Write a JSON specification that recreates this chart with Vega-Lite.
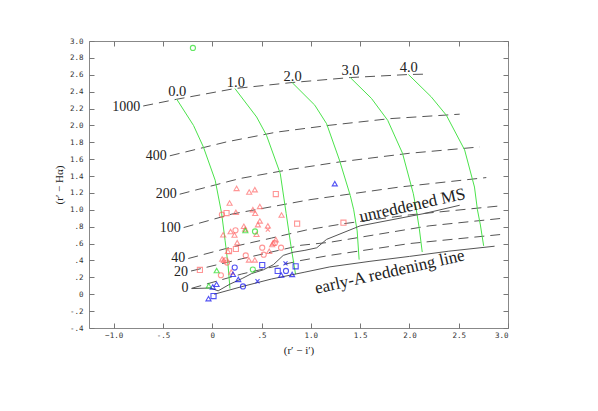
{
  "$schema": "https://vega.github.io/schema/vega-lite/v6.json",
  "width": 419,
  "height": 287,
  "autosize": "none",
  "padding": {"left": 89, "top": 41, "right": 90, "bottom": 83},
  "background": "white",
  "config": {
    "view": {"stroke": "#888", "strokeWidth": 1},
    "font": "Liberation Serif",
    "axis": {
      "grid": false, "domain": false, "ticks": true, "tickSize": -5, "tickColor": "#777",
      "labelFont": "DejaVu Sans Mono", "labelFontSize": 7.5, "labelColor": "#333",
      "titleFont": "Liberation Serif", "titleFontWeight": "normal", "titleFontSize": 11, "titleColor": "#222"
    }
  },
  "datasets": {
    "ew": [
      {"g": "1000", "x": -0.70, "y": 2.23}, {"g": "1000", "x": -0.36, "y": 2.31}, {"g": "1000", "x": 0.23, "y": 2.437}, {"g": "1000", "x": 0.81, "y": 2.508}, {"g": "1000", "x": 1.40, "y": 2.567}, {"g": "1000", "x": 1.99, "y": 2.603}, {"g": "1000", "x": 2.155, "y": 2.607},
      {"g": "400", "x": -0.43, "y": 1.64}, {"g": "400", "x": 0.146, "y": 1.805}, {"g": "400", "x": 0.65, "y": 1.92}, {"g": "400", "x": 1.193, "y": 2.002}, {"g": "400", "x": 1.8, "y": 2.08}, {"g": "400", "x": 2.51, "y": 2.133},
      {"g": "200", "x": -0.33, "y": 1.185}, {"g": "200", "x": 0.281, "y": 1.371}, {"g": "200", "x": 0.8, "y": 1.48}, {"g": "200", "x": 1.294, "y": 1.568}, {"g": "200", "x": 2.0, "y": 1.67}, {"g": "200", "x": 2.713, "y": 1.745},
      {"g": "100", "x": -0.29, "y": 0.79}, {"g": "100", "x": 0.2, "y": 0.95}, {"g": "100", "x": 0.99, "y": 1.12}, {"g": "100", "x": 1.9, "y": 1.27}, {"g": "100", "x": 2.78, "y": 1.382},
      {"g": "40", "x": -0.243, "y": 0.423}, {"g": "40", "x": 0.2, "y": 0.56}, {"g": "40", "x": 0.6, "y": 0.665}, {"g": "40", "x": 0.95, "y": 0.76}, {"g": "40", "x": 1.33, "y": 0.835}, {"g": "40", "x": 2.0, "y": 0.94}, {"g": "40", "x": 2.95, "y": 1.05},
      {"g": "20", "x": -0.215, "y": 0.275}, {"g": "20", "x": 0.3, "y": 0.42}, {"g": "20", "x": 0.9, "y": 0.58}, {"g": "20", "x": 1.19, "y": 0.615}, {"g": "20", "x": 2.2, "y": 0.81}, {"g": "20", "x": 2.92, "y": 0.897},
      {"g": "0", "x": -0.21, "y": 0.07}, {"g": "0", "x": 0.3, "y": 0.24}, {"g": "0", "x": 0.9, "y": 0.40}, {"g": "0", "x": 1.19, "y": 0.46}, {"g": "0", "x": 2.0, "y": 0.60}, {"g": "0", "x": 2.92, "y": 0.707}
    ],
    "red": [
      {"g": "0.0", "x": -0.36, "y": 2.31}, {"g": "0.0", "x": -0.19, "y": 2.0}, {"g": "0.0", "x": -0.09, "y": 1.745}, {"g": "0.0", "x": 0.03, "y": 1.35}, {"g": "0.0", "x": 0.095, "y": 0.96}, {"g": "0.0", "x": 0.13, "y": 0.64}, {"g": "0.0", "x": 0.16, "y": 0.35}, {"g": "0.0", "x": 0.18, "y": 0.067},
      {"g": "1.0", "x": 0.23, "y": 2.437}, {"g": "1.0", "x": 0.45, "y": 2.10}, {"g": "1.0", "x": 0.55, "y": 1.884}, {"g": "1.0", "x": 0.69, "y": 1.43}, {"g": "1.0", "x": 0.75, "y": 0.955}, {"g": "1.0", "x": 0.80, "y": 0.56}, {"g": "1.0", "x": 0.845, "y": 0.237},
      {"g": "2.0", "x": 0.81, "y": 2.508}, {"g": "2.0", "x": 1.04, "y": 2.24}, {"g": "2.0", "x": 1.16, "y": 2.02}, {"g": "2.0", "x": 1.29, "y": 1.59}, {"g": "2.0", "x": 1.40, "y": 1.17}, {"g": "2.0", "x": 1.435, "y": 1.0}, {"g": "2.0", "x": 1.47, "y": 0.75}, {"g": "2.0", "x": 1.49, "y": 0.41},
      {"g": "3.0", "x": 1.40, "y": 2.567}, {"g": "3.0", "x": 1.615, "y": 2.32}, {"g": "3.0", "x": 1.78, "y": 2.06}, {"g": "3.0", "x": 1.93, "y": 1.67}, {"g": "3.0", "x": 2.04, "y": 1.19}, {"g": "3.0", "x": 2.07, "y": 1.0}, {"g": "3.0", "x": 2.10, "y": 0.78}, {"g": "3.0", "x": 2.13, "y": 0.50},
      {"g": "4.0", "x": 1.99, "y": 2.603}, {"g": "4.0", "x": 2.22, "y": 2.34}, {"g": "4.0", "x": 2.375, "y": 2.12}, {"g": "4.0", "x": 2.56, "y": 1.71}, {"g": "4.0", "x": 2.66, "y": 1.27}, {"g": "4.0", "x": 2.69, "y": 1.0}, {"g": "4.0", "x": 2.72, "y": 0.82}, {"g": "4.0", "x": 2.753, "y": 0.573}
    ],
    "solid": [
      {"g": "MS", "x": -0.209, "y": 0.067}, {"g": "MS", "x": -0.02, "y": 0.074}, {"g": "MS", "x": 0.06, "y": 0.04}, {"g": "MS", "x": 0.18, "y": 0.12}, {"g": "MS", "x": 0.31, "y": 0.19}, {"g": "MS", "x": 0.40, "y": 0.245}, {"g": "MS", "x": 0.52, "y": 0.29}, {"g": "MS", "x": 0.62, "y": 0.35}, {"g": "MS", "x": 0.72, "y": 0.46}, {"g": "MS", "x": 0.82, "y": 0.497}, {"g": "MS", "x": 0.94, "y": 0.52}, {"g": "MS", "x": 1.06, "y": 0.55}, {"g": "MS", "x": 1.16, "y": 0.65}, {"g": "MS", "x": 1.50, "y": 0.81}, {"g": "MS", "x": 2.15, "y": 0.956}, {"g": "MS", "x": 2.51, "y": 1.054},
      {"g": "A", "x": 0.02, "y": 0.0}, {"g": "A", "x": 0.3, "y": 0.09}, {"g": "A", "x": 0.6, "y": 0.18}, {"g": "A", "x": 0.94, "y": 0.262}, {"g": "A", "x": 1.193, "y": 0.324}, {"g": "A", "x": 1.6, "y": 0.39}, {"g": "A", "x": 2.0, "y": 0.448}, {"g": "A", "x": 2.4, "y": 0.51}, {"g": "A", "x": 2.864, "y": 0.569}
    ],
    "pts": [
      {"x": 0.247, "y": 1.254, "c": "r", "s": "tri"}, {"x": 0.375, "y": 1.211, "c": "r", "s": "tri"}, {"x": 0.432, "y": 1.239, "c": "r", "s": "tri"}, {"x": 0.176, "y": 1.081, "c": "r", "s": "tri"},
      {"x": 0.240, "y": 0.970, "c": "r", "s": "tri"}, {"x": 0.412, "y": 1.002, "c": "r", "s": "tri"}, {"x": 0.483, "y": 1.040, "c": "r", "s": "tri"}, {"x": 0.436, "y": 0.959, "c": "r", "s": "tri"},
      {"x": 0.703, "y": 0.939, "c": "r", "s": "tri"}, {"x": 0.483, "y": 0.868, "c": "r", "s": "tri"}, {"x": 0.463, "y": 0.824, "c": "r", "s": "tri"}, {"x": 0.321, "y": 0.805, "c": "r", "s": "tri"},
      {"x": 0.334, "y": 0.773, "c": "r", "s": "tri"}, {"x": 0.186, "y": 0.742, "c": "r", "s": "tri"}, {"x": 0.111, "y": 0.705, "c": "r", "s": "tri"}, {"x": 0.226, "y": 0.702, "c": "r", "s": "tri"},
      {"x": 0.449, "y": 0.710, "c": "r", "s": "tri"}, {"x": 0.253, "y": 0.611, "c": "r", "s": "tri"}, {"x": 0.645, "y": 0.647, "c": "r", "s": "tri"}, {"x": 0.618, "y": 0.607, "c": "r", "s": "tri"},
      {"x": 0.608, "y": 0.588, "c": "r", "s": "tri"}, {"x": 0.578, "y": 0.509, "c": "r", "s": "tri"}, {"x": 0.159, "y": 0.509, "c": "r", "s": "tri"}, {"x": 0.101, "y": 0.418, "c": "r", "s": "tri"},
      {"x": 0.118, "y": 0.402, "c": "r", "s": "tri"}, {"x": 0.372, "y": 0.406, "c": "r", "s": "tri"}, {"x": 0.432, "y": 0.406, "c": "r", "s": "tri"}, {"x": 0.193, "y": 0.264, "c": "r", "s": "tri"},
      {"x": 0.564, "y": 0.810, "c": "r", "s": "tri"}, {"x": 0.564, "y": 0.765, "c": "r", "s": "x"},
      {"x": 0.645, "y": 1.187, "c": "r", "s": "sq"}, {"x": 0.145, "y": 0.962, "c": "r", "s": "sq"}, {"x": 0.861, "y": 0.836, "c": "r", "s": "sq"}, {"x": 1.331, "y": 0.848, "c": "r", "s": "sq"},
      {"x": 0.17, "y": 0.51, "c": "r", "s": "sq"}, {"x": 0.240, "y": 0.536, "c": "r", "s": "sq"}, {"x": -0.125, "y": 0.288, "c": "r", "s": "sq"},
      {"x": 0.098, "y": 0.943, "c": "r", "s": "circ"}, {"x": 0.236, "y": 0.757, "c": "r", "s": "circ"}, {"x": 0.340, "y": 0.460, "c": "r", "s": "circ"}, {"x": 0.507, "y": 0.552, "c": "r", "s": "circ"},
      {"x": 0.522, "y": 0.469, "c": "r", "s": "circ"}, {"x": 0.698, "y": 0.552, "c": "r", "s": "circ"}, {"x": 0.135, "y": 0.402, "c": "r", "s": "circ"}, {"x": 0.150, "y": 0.375, "c": "r", "s": "circ"},
      {"x": 0.088, "y": 0.225, "c": "r", "s": "circ"}, {"x": 0.635, "y": 0.608, "c": "r", "s": "circ"},
      {"x": -0.196, "y": 2.918, "c": "g", "s": "circ"}, {"x": 0.045, "y": 0.280, "c": "g", "s": "tri"}, {"x": -0.035, "y": 0.100, "c": "g", "s": "tri"},
      {"x": 0.434, "y": 0.744, "c": "g", "s": "circ"}, {"x": 0.336, "y": 0.754, "c": "g", "s": "tri"}, {"x": 0.412, "y": 0.292, "c": "g", "s": "circ"},
      {"x": 1.243, "y": 1.310, "c": "b", "s": "tri"}, {"x": -0.038, "y": -0.052, "c": "b", "s": "tri"}, {"x": 0.013, "y": -0.022, "c": "b", "s": "sq"}, {"x": 0.005, "y": 0.087, "c": "b", "s": "tri"},
      {"x": 0.044, "y": 0.118, "c": "b", "s": "tri"}, {"x": 0.228, "y": 0.316, "c": "b", "s": "circ"}, {"x": 0.211, "y": 0.237, "c": "b", "s": "tri"}, {"x": 0.264, "y": 0.176, "c": "b", "s": "tri"},
      {"x": 0.312, "y": 0.093, "c": "b", "s": "circ"}, {"x": 0.459, "y": 0.154, "c": "b", "s": "x"}, {"x": 0.507, "y": 0.345, "c": "b", "s": "sq"}, {"x": 0.664, "y": 0.276, "c": "b", "s": "sq"},
      {"x": 0.748, "y": 0.276, "c": "b", "s": "circ"}, {"x": 0.743, "y": 0.365, "c": "b", "s": "x"}, {"x": 0.700, "y": 0.227, "c": "b", "s": "tri"}, {"x": 0.810, "y": 0.235, "c": "b", "s": "tri"},
      {"x": 0.846, "y": 0.331, "c": "b", "s": "sq"}
    ],
    "ewlab": [
      {"t": "1000", "x": -0.70, "y": 2.22}, {"t": "400", "x": -0.43, "y": 1.635}, {"t": "200", "x": -0.33, "y": 1.185},
      {"t": "100", "x": -0.29, "y": 0.79}, {"t": "40", "x": -0.243, "y": 0.428}, {"t": "20", "x": -0.215, "y": 0.262}, {"t": "0", "x": -0.21, "y": 0.072}
    ],
    "eblab": [
      {"t": "0.0", "x": -0.355, "y": 2.40}, {"t": "1.0", "x": 0.24, "y": 2.50}, {"t": "2.0", "x": 0.815, "y": 2.577},
      {"t": "3.0", "x": 1.402, "y": 2.643}, {"t": "4.0", "x": 1.993, "y": 2.682}
    ],
    "ms": [{"t": "unreddened MS", "x": 2.03, "y": 1.05}],
    "ea": [{"t": "early-A reddening line", "x": 1.80, "y": 0.262}]
  },
  "resolve": {"axis": {"x": "independent", "y": "independent"}},
  "layer": [
    {
      "data": {"name": "ew"},
      "mark": {"type": "line", "color": "#555", "strokeWidth": 1, "strokeDash": [10, 6]},
      "encoding": {
        "x": {"field": "x", "type": "quantitative", "scale": {"domain": [-1.25, 3.0], "nice": false, "zero": false},
          "axis": {"orient": "bottom", "values": [-1, -0.5, 0, 0.5, 1, 1.5, 2, 2.5, 3], "title": "(r′ − i′)", "labelPadding": 8, "titlePadding": 6,
            "labelExpr": "datum.value == 0 ? '0' : (abs(datum.value) < 1 ? (datum.value < 0 ? '-' : '') + substring(format(abs(datum.value), '.1f'), 1) : format(datum.value, '.1f'))"}},
        "y": {"field": "y", "type": "quantitative", "scale": {"domain": [-0.4, 3.0], "nice": false, "zero": false},
          "axis": {"orient": "left", "values": [-0.4, -0.2, 0, 0.2, 0.4, 0.6, 0.8, 1.0, 1.2, 1.4, 1.6, 1.8, 2.0, 2.2, 2.4, 2.6, 2.8, 3.0], "title": "(r′ − Hα)", "labelPadding": 11, "titlePadding": 5,
            "labelExpr": "datum.value == 0 ? '0' : (abs(datum.value) < 1 ? (datum.value < 0 ? '-' : '') + substring(format(abs(datum.value), '.1f'), 1) : format(datum.value, '.1f'))"}},
        "detail": {"field": "g"}
      }
    },
    {
      "data": {"name": "red"},
      "mark": {"type": "line", "color": "#4be34b", "strokeWidth": 1},
      "encoding": {
        "x": {"field": "x", "type": "quantitative", "axis": {"orient": "top", "values": [-1, -0.5, 0, 0.5, 1, 1.5, 2, 2.5, 3], "labels": false, "title": null}},
        "y": {"field": "y", "type": "quantitative", "axis": {"orient": "right", "values": [-0.4, -0.2, 0, 0.2, 0.4, 0.6, 0.8, 1.0, 1.2, 1.4, 1.6, 1.8, 2.0, 2.2, 2.4, 2.6, 2.8, 3.0], "labels": false, "title": null}},
        "detail": {"field": "g"}
      }
    },
    {
      "data": {"name": "solid"},
      "mark": {"type": "line", "color": "#555", "strokeWidth": 1},
      "encoding": {
        "x": {"field": "x", "type": "quantitative", "axis": null},
        "y": {"field": "y", "type": "quantitative", "axis": null},
        "detail": {"field": "g"}
      }
    },
    {
      "data": {"name": "pts"},
      "mark": {"type": "point", "filled": false, "strokeWidth": 1.1, "size": 26},
      "encoding": {
        "x": {"field": "x", "type": "quantitative", "axis": null},
        "y": {"field": "y", "type": "quantitative", "axis": null},
        "color": {"field": "c", "type": "nominal", "scale": {"domain": ["r", "g", "b"], "range": ["#ff6b6b", "#22dd22", "#0a0af0"]}, "legend": null},
        "shape": {"field": "s", "type": "nominal", "scale": {"domain": ["tri", "sq", "circ", "x"], "range": ["triangle-up", "square", "circle", "M-0.8,-0.8L0.8,0.8M-0.8,0.8L0.8,-0.8"]}, "legend": null}
      }
    },
    {
      "data": {"name": "ewlab"},
      "mark": {"type": "text", "align": "right", "baseline": "middle", "dx": -3, "fontSize": 14, "color": "#222"},
      "encoding": {
        "x": {"field": "x", "type": "quantitative", "axis": null},
        "y": {"field": "y", "type": "quantitative", "axis": null},
        "text": {"field": "t"}
      }
    },
    {
      "data": {"name": "eblab"},
      "mark": {"type": "text", "align": "center", "baseline": "middle", "fontSize": 14.5, "color": "#222"},
      "encoding": {
        "x": {"field": "x", "type": "quantitative", "axis": null},
        "y": {"field": "y", "type": "quantitative", "axis": null},
        "text": {"field": "t"}
      }
    },
    {
      "data": {"name": "ms"},
      "mark": {"type": "text", "align": "center", "baseline": "middle", "fontSize": 17, "angle": -12.5, "color": "#222"},
      "encoding": {
        "x": {"field": "x", "type": "quantitative", "axis": null},
        "y": {"field": "y", "type": "quantitative", "axis": null},
        "text": {"field": "t"}
      }
    },
    {
      "data": {"name": "ea"},
      "mark": {"type": "text", "align": "center", "baseline": "middle", "fontSize": 17, "angle": -12.7, "color": "#222"},
      "encoding": {
        "x": {"field": "x", "type": "quantitative", "axis": null},
        "y": {"field": "y", "type": "quantitative", "axis": null},
        "text": {"field": "t"}
      }
    }
  ]
}
